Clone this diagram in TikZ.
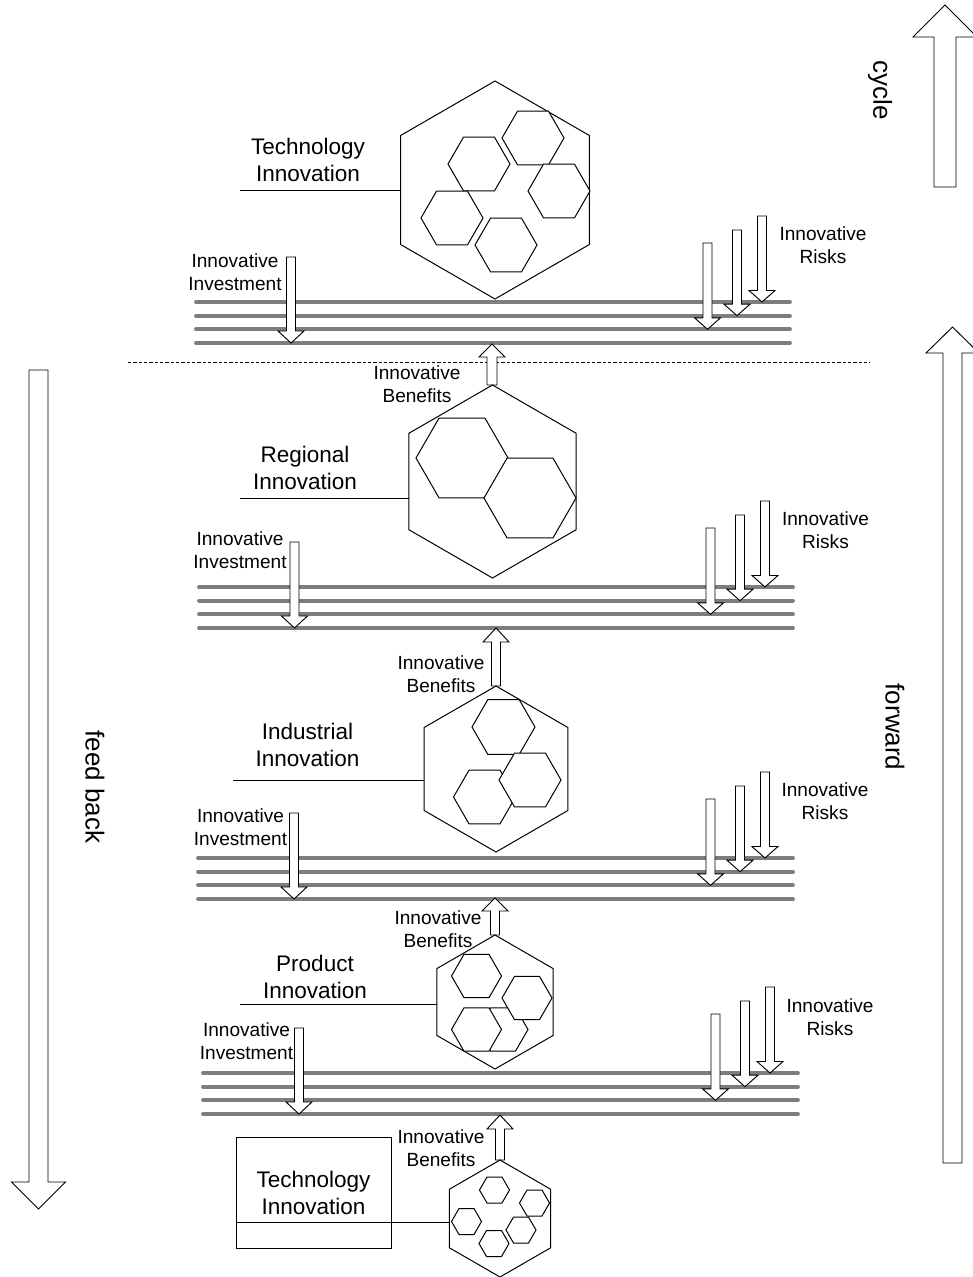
\documentclass[tikz,border=0pt]{standalone}
\usepackage{fontspec}
\setmainfont{Liberation Sans}
\newcommand\dnarr[6]{%
  \draw[blockarr] ({#1-#4},{#2}) -- ({#1+#4},{#2}) -- ({#1+#4},{#3-#6}) -- ({#1+#5},{#3-#6}) -- ({#1},{#3}) -- ({#1-#5},{#3-#6}) -- ({#1-#4},{#3-#6}) -- cycle;}
\newcommand\uparr[6]{%
  \draw[blockarr] ({#1-#4},{#2}) -- ({#1+#4},{#2}) -- ({#1+#4},{#3+#6}) -- ({#1+#5},{#3+#6}) -- ({#1},{#3}) -- ({#1-#5},{#3+#6}) -- ({#1-#4},{#3+#6}) -- cycle;}
\newcommand\hexP[3]{\draw[hexline] (#1,#2) +(90:#3) -- +(150:#3) -- +(210:#3) -- +(270:#3) -- +(330:#3) -- +(30:#3) -- cycle;}
\newcommand\hexF[3]{\draw[hexline,fill=white] (#1,#2) +(0:#3) -- +(60:#3) -- +(120:#3) -- +(180:#3) -- +(240:#3) -- +(300:#3) -- cycle;}
\newcommand\layer[5]{%
  \foreach \k in {0,1,2,3} {\draw[rail] (#2,{#1+13.67*\k}) -- (#3,{#1+13.67*\k});}
  \dnarr{#4}{#1-45}{#1+41}{4.5}{13}{12}
  \dnarr{#5}{#1-59}{#1+27.3}{4.5}{13}{11.5}
  \dnarr{#5+29.5}{#1-72}{#1+13.7}{4.5}{13}{11.5}
  \dnarr{#5+54.5}{#1-86}{#1}{4.5}{13}{11.5}}
\begin{document}
\begin{tikzpicture}[x=0.75pt,y=-0.75pt,
  blockarr/.style={draw=black,line width=0.7pt,fill=white,line join=miter},
  hexline/.style={draw=black,line width=0.75pt},
  rail/.style={draw={rgb,255:red,125;green,125;blue,125},line width=2.8pt,line cap=round},
  big/.style={font=\fontsize{16.9}{20.25}\selectfont,align=center,inner sep=0pt},
  small/.style={font=\fontsize{14.3}{17.25}\selectfont,align=center,inner sep=0pt},
  rot/.style={font=\fontsize{19.5}{22}\selectfont,rotate=-90,inner sep=0pt}]
\useasboundingbox (0,0) rectangle (972,1277);

% big side arrows
\uparr{945}{187}{5}{11}{32}{32}
\uparr{952.5}{1163}{327}{9.5}{26.5}{26}
\dnarr{38.5}{370}{1209}{9.5}{27}{27}
\node[rot] (cyc) at (880,90) {cycle};
\node[rot] (fwd) at (895,727) {forward};
\node[rot] (fb) at (95,787) {feed back};

% dashed separator
\draw[dashed,dash pattern=on 2.5pt off 1.5pt,line width=0.5pt] (128,362) -- (870,362);

% ---------- section 1
\layer{302}{196}{790}{291}{707.5}
\hexP{495}{190}{109}
\hexF{479}{164}{31}
\hexF{533}{138}{31}
\hexF{559}{191}{31}
\hexF{452}{218}{31}
\hexF{506}{245}{31}
\node[big] (t1) at (308,159.5) {Technology\\Innovation};
\coordinate (t1a) at (240,190);
\coordinate (h1w) at (400.6,190);
\draw[hexline] (t1a) -- (h1w);
\node[small] (inv1) at (235,272.5) {Innovative\\Investment};
\node[small] (rk1) at (823,245.5) {Innovative\\Risks};

% ---------- section 2
\layer{587}{199}{793}{294.5}{710.5}
\uparr{492}{385}{344}{5}{13}{13}
\hexP{492.5}{481.5}{96.5}
\hexF{462}{458}{46}
\hexF{530}{498}{46}
\node[small] (bn2) at (417,384.5) {Innovative\\Benefits};
\node[big] (t2) at (305,468) {Regional\\Innovation};
\coordinate (t2a) at (240,498);
\coordinate (h2w) at (408.9,498);
\draw[hexline] (t2a) -- (h2w);
\node[small] (inv2) at (240,550.5) {Innovative\\Investment};
\node[small] (rk2) at (825.5,530.5) {Innovative\\Risks};

% ---------- section 3
\layer{858}{198}{793}{294}{710.5}
\uparr{496}{686}{628}{4.5}{13}{14}
\hexP{496}{769}{83}
\hexF{503.5}{727}{31.5}
\hexF{484.5}{797}{31}
\hexF{530}{780}{31}
\node[small] (bn3) at (441,674.5) {Innovative\\Benefits};
\node[big] (t3) at (307.5,744.5) {Industrial\\Innovation};
\coordinate (t3a) at (233,780);
\coordinate (h3w) at (424.1,780);
\draw[hexline] (t3a) -- (h3w);
\node[small] (inv3) at (240.5,827) {Innovative\\Investment};
\node[small] (rk3) at (825,801) {Innovative\\Risks};

% ---------- section 4
\layer{1073}{203}{798}{299}{715.5}
\uparr{495}{935}{898}{4.5}{13}{13}
\hexP{495}{1002}{67}
\hexF{476.5}{976}{25}
\hexF{503}{1029.5}{25}
\hexF{476.5}{1029.5}{25}
\hexF{527}{998}{25}
\node[small] (bn4) at (438,929.5) {Innovative\\Benefits};
\node[big] (t4) at (315,977) {Product\\Innovation};
\coordinate (t4a) at (240,1004);
\coordinate (h4w) at (437,1004);
\draw[hexline] (t4a) -- (h4w);
\node[small] (inv4) at (246.5,1041.5) {Innovative\\Investment};
\node[small] (rk4) at (830,1017.5) {Innovative\\Risks};

% ---------- section 5
\uparr{500}{1160}{1115}{4.5}{13}{14}
\hexP{500}{1218.5}{58.5}
\hexF{494.5}{1190}{15}
\hexF{534.5}{1203}{15}
\hexF{466.5}{1221.5}{15}
\hexF{494}{1243.5}{15}
\hexF{521}{1230}{15}
\node[small] (bn5) at (441,1148.5) {Innovative\\Benefits};
\node[big,draw,line width=0.75pt,minimum width=116.25pt,minimum height=83.25pt] (box) at (313.5,1192.5) {Technology\\Innovation};
\coordinate (b5a) at (236,1222);
\coordinate (h5w) at (449.5,1222);
\draw[hexline] (b5a) -- (h5w);
\end{tikzpicture}
\end{document}
